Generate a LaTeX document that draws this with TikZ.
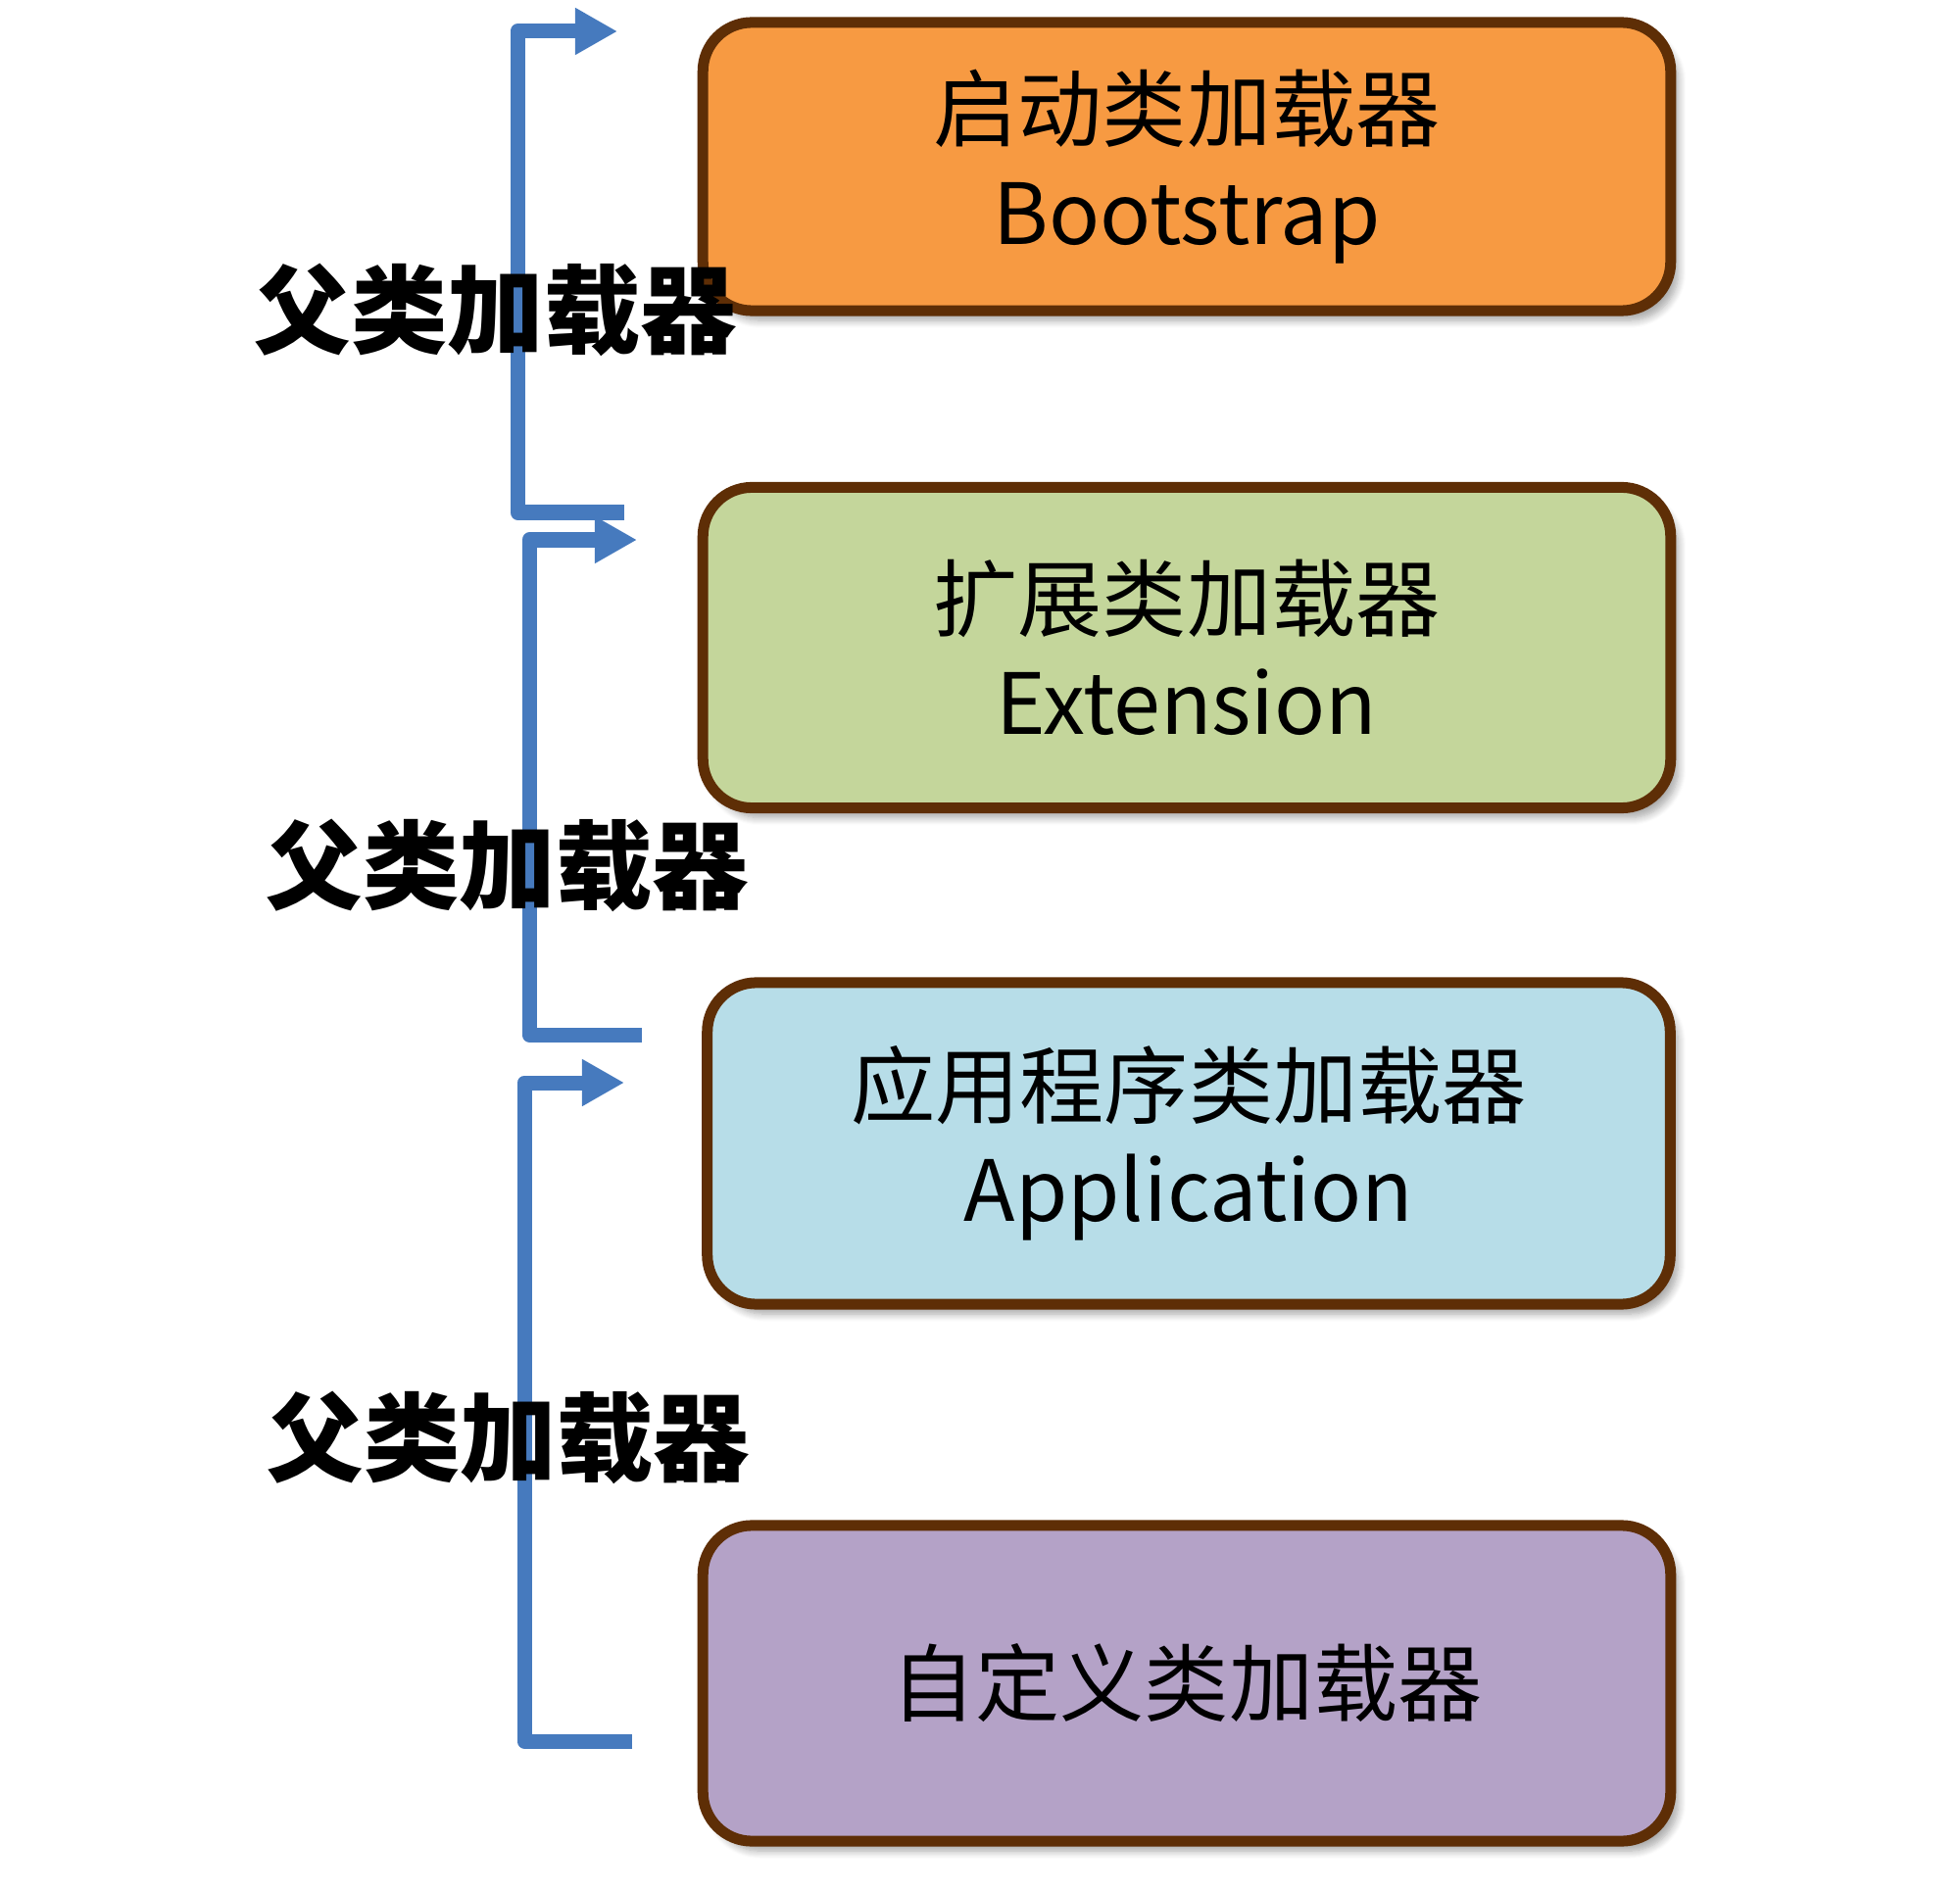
\documentclass[tikz,border=0pt]{standalone}
\usepackage{fontspec}
\setmainfont{Noto Sans CJK SC}
\usetikzlibrary{arrows.meta,shadows.blur}

\definecolor{bootorange}{RGB}{247,154,66}
\definecolor{extgreen}{RGB}{196,214,155}
\definecolor{appblue}{RGB}{183,221,232}
\definecolor{custpurple}{RGB}{180,162,199}
\definecolor{loaderbrown}{RGB}{94,46,6}
\definecolor{parentblue}{RGB}{70,122,190}

\tikzset{
  loader/.style={draw=loaderbrown, line width=0.11cm, rounded corners=0.5cm,
    align=center, inner sep=0pt, font=\fontsize{24.5}{30}\selectfont,
    blur shadow={shadow xshift=0.08cm, shadow yshift=-0.1cm,
      shadow blur steps=8, shadow opacity=35}},
  parent/.style={draw=parentblue, line width=0.15cm, line join=round,
    -{Triangle[length=0.43cm,width=0.45cm]}},
  parentlabel/.style={font=\fontsize{28}{34}\selectfont\bfseries, inner sep=0pt}
}

\begin{document}
\begin{tikzpicture}[x=0.01cm, y=-0.01cm]
  \useasboundingbox (0,0) rectangle (2000,1931);

  %Bootstrap
  \node[loader, fill=bootorange, minimum width=9.87cm, minimum height=2.94cm]
    (boot) at (1211,170) {启动类加载器\\Bootstrap};
  %Extension
  \node[loader, fill=extgreen, minimum width=9.87cm, minimum height=3.27cm]
    (ext) at (1211,661) {扩展类加载器\\Extension};
  %Application
  \node[loader, fill=appblue, minimum width=9.82cm, minimum height=3.28cm]
    (app) at (1213,1167) {应用程序类加载器\\Application};
  %Custom
  \node[loader, fill=custpurple, minimum width=9.87cm, minimum height=3.22cm]
    (custom) at (1211,1718) {自定义类加载器};

  %Parent arrows
  \coordinate (extfrom) at (637,523);
  \coordinate (boottip) at (630,32);
  \draw[parent] (extfrom) -- ++(-109,0) |- (boottip);

  \coordinate (appfrom) at (655,1056);
  \coordinate (exttip) at (650,551);
  \draw[parent] (appfrom) -- ++(-115,0) |- (exttip);

  \coordinate (customfrom) at (645,1777);
  \coordinate (apptip) at (637,1105);
  \draw[parent] (customfrom) -- ++(-110,0) |- (apptip);

  %Labels
  \node[parentlabel] (lbl1) at (506,316) {父类加载器};
  \node[parentlabel] (lbl2) at (518,883) {父类加载器};
  \node[parentlabel] (lbl3) at (519,1467) {父类加载器};
\end{tikzpicture}
\end{document}
